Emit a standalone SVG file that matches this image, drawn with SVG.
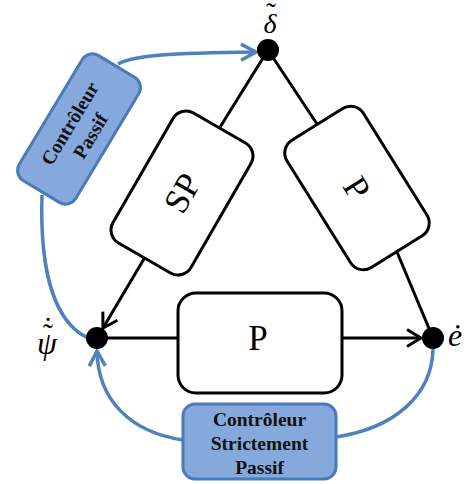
<svg xmlns="http://www.w3.org/2000/svg" width="465" height="484" viewBox="0 0 465 484">
<style>
.ln{stroke:#000;stroke-width:3;fill:none}
.bl{stroke:#4f81bd;stroke-width:3.5;fill:none}
.box{fill:#fff;stroke:#000;stroke-width:3}
.cbox{fill:#85a9dc;stroke:#4a7ab8;stroke-width:3}
.big{font-family:"Liberation Serif","Times New Roman",serif;font-size:35px;fill:#000;text-anchor:middle}
.ctl{font-family:"Liberation Serif","Times New Roman",serif;font-size:19.5px;font-weight:bold;fill:#111;text-anchor:middle}
.sym{font-family:"Liberation Serif","Times New Roman",serif;font-style:italic;font-size:28px;fill:#000}
.sym32{font-size:32px}
.acc{font-size:30px;font-style:normal}
</style>
<defs>
<marker id="ab" markerUnits="userSpaceOnUse" markerWidth="20" markerHeight="20" refX="0" refY="0" orient="auto" overflow="visible">
<path d="M-14,-8.5 L0,0 L-14,8.5" fill="none" stroke="#000" stroke-width="3" stroke-linejoin="miter"/>
</marker>
<marker id="ablue" markerUnits="userSpaceOnUse" markerWidth="20" markerHeight="20" refX="0" refY="0" orient="auto" overflow="visible">
<path d="M-15,-8 L0,0 L-15,8" fill="none" stroke="#4f81bd" stroke-width="3.5"/>
</marker>
</defs>
<g id="connectors">
<line class="ln" x1="268" y1="50" x2="219.5" y2="128"/>
<line class="ln" x1="144.5" y1="258" x2="103" y2="328" marker-end="url(#ab)"/>
<line class="ln" x1="268" y1="50" x2="317" y2="124"/>
<line class="ln" x1="397" y1="252" x2="433" y2="338"/>
<line class="ln" x1="97" y1="338" x2="421" y2="338" marker-end="url(#ab)"/>
<path class="bl" d="M118,64 C135,55 170,53 256,52" marker-end="url(#ablue)"/>
<path class="bl" d="M42,195 C40,260 50,320 88,338"/>
<path class="bl" d="M183,440 C130,432 98,400 97,351" marker-end="url(#ablue)"/>
<path class="bl" d="M336,437 C395,428 432,395 433,349"/>
</g>
<g id="box-sp" transform="translate(182,193) rotate(-60)">
<rect class="box" x="-75" y="-45" width="150" height="90" rx="15"/>
<text class="big" x="0" y="12">SP</text>
</g>
<g id="box-p-right" transform="translate(357,188) rotate(58)">
<rect class="box" x="-75" y="-45" width="150" height="90" rx="15"/>
<text class="big" x="0" y="12">P</text>
</g>
<g id="box-p-bottom">
<rect class="box" x="178" y="293" width="164" height="100" rx="18"/>
<text class="big" x="258" y="350">P</text>
</g>
<g id="ctrl-passif" transform="translate(79,129) rotate(-59)">
<rect class="cbox" x="-73" y="-33" width="146" height="66" rx="12"/>
<text class="ctl" x="0" y="-4">Contrôleur</text>
<text class="ctl" x="0" y="20">Passif</text>
</g>
<g id="ctrl-strict">
<rect class="cbox" x="183" y="404" width="153" height="75" rx="12"/>
<text class="ctl" x="259.5" y="426">Contrôleur</text>
<text class="ctl" x="259.5" y="450">Strictement</text>
<text class="ctl" x="259.5" y="474">Passif</text>
</g>
<g id="node-delta">
<circle cx="268" cy="50" r="11" fill="#000"/>
<text class="sym" text-anchor="middle"><tspan x="270" y="33">δ</tspan><tspan class="acc" x="271" y="23">˜</tspan></text>
</g>
<g id="node-psi">
<circle cx="97" cy="338" r="11" fill="#000"/>
<text class="sym sym32" text-anchor="middle"><tspan x="47" y="354">ψ</tspan><tspan class="acc" x="48" y="344">˜</tspan><tspan class="acc" x="48" y="338">˙</tspan></text>
</g>
<g id="node-e">
<circle cx="433" cy="338" r="11" fill="#000"/>
<text class="sym sym32" x="448" y="346">ė</text>
</g>
</svg>
